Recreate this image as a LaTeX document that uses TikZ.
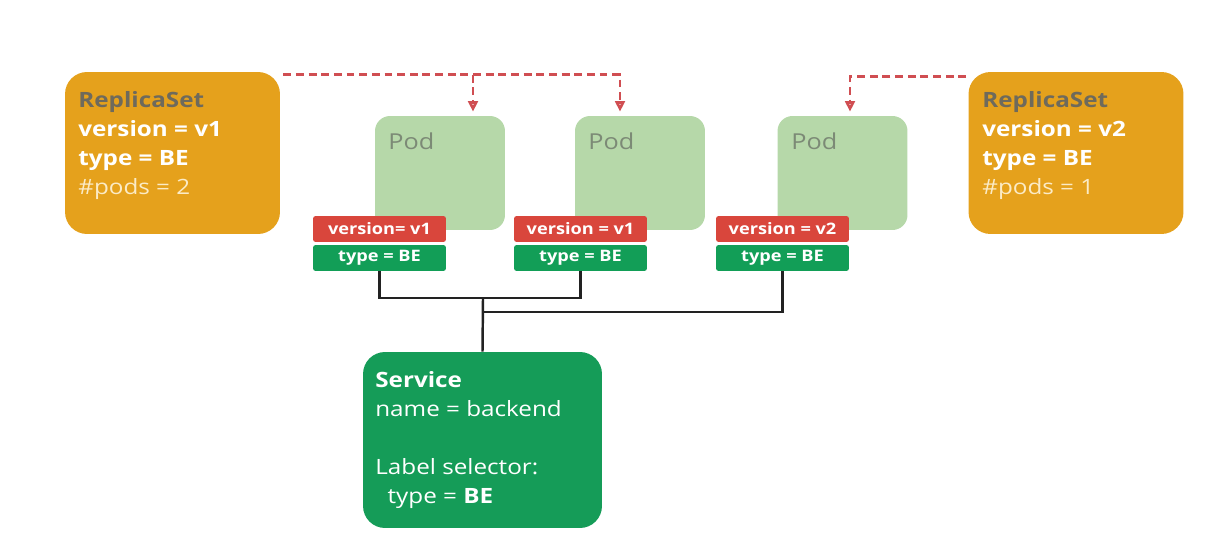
\documentclass[tikz,border=0pt]{standalone}
\usepackage{fontspec}
\setmainfont{Open Sans}[FakeStretch=1.15]
\usetikzlibrary{arrows.meta}

\definecolor{rsorange}{HTML}{E5A11C}
\definecolor{rsgray}{HTML}{6E6A5C}
\definecolor{rspale}{HTML}{FBEBC6}
\definecolor{podgreen}{HTML}{B6D8A9}
\definecolor{podgray}{HTML}{7C8A76}
\definecolor{tagred}{HTML}{D9463C}
\definecolor{taggreen}{HTML}{129E57}
\definecolor{svcgreen}{HTML}{159C58}
\definecolor{rsred}{HTML}{D04E52}
\definecolor{selgray}{HTML}{222222}

\tikzset{
  rsbox/.style={rectangle,rounded corners=0.44cm,fill=rsorange,
    minimum width=4.3cm,minimum height=3.24cm},
  podbox/.style={rectangle,rounded corners=0.3cm,fill=podgreen,
    minimum width=2.6cm,minimum height=2.28cm},
  svcbox/.style={rectangle,rounded corners=0.44cm,fill=svcgreen,
    minimum width=4.78cm,minimum height=3.52cm},
  tag/.style={rectangle,rounded corners=1.5pt,text=white,inner sep=0pt,
    minimum width=2.66cm,minimum height=0.52cm,
    font=\fontsize{9}{10}\selectfont\bfseries},
  boxtext/.style={anchor=north west,inner sep=0pt,align=left,
    font=\fontsize{12}{16.5}\selectfont},
  rsline/.style={draw=rsred,line width=1.5pt,dash pattern=on 4.5pt off 2.7pt,
    -{Triangle[open,length=6pt,width=5.5pt]}},
  selline/.style={draw=selgray,line width=1.4pt}
}

\begin{document}
\begin{tikzpicture}[x=0.02cm,y=-0.02cm]

  \useasboundingbox (0,0) rectangle (1210,544);

  % replica sets
  \node[rsbox] (rs1) at (172.5,153) {};
  \node[rsbox] (rs2) at (1076,153) {};
  \node[boxtext,text=white] (rs1txt) at (78,91)
    {\textbf{\textcolor{rsgray}{ReplicaSet}}\\\textbf{version = v1}\\
     \textbf{type = BE}\\\textcolor{rspale}{\#pods = 2}};
  \node[boxtext,text=white] (rs2txt) at (982,91)
    {\textbf{\textcolor{rsgray}{ReplicaSet}}\\\textbf{version = v2}\\
     \textbf{type = BE}\\\textcolor{rspale}{\#pods = 1}};

  % pods
  \node[podbox] (pod1) at (440,173) {};
  \node[podbox] (pod2) at (640,173) {};
  \node[podbox] (pod3) at (842.5,173) {};
  \begin{scope}[every node/.style={boxtext,text=podgray,
      font=\fontsize{12.5}{15}\selectfont}]
    \node (pod1txt) at (388,132) {Pod};
    \node (pod2txt) at (588,132) {Pod};
    \node (pod3txt) at (791,132) {Pod};
  \end{scope}

  % labels
  \begin{scope}[every node/.style={tag,fill=tagred}]
    \node (ver1) at (379.5,229) {version= v1};
    \node (ver2) at (580.5,229) {version = v1};
    \node (ver3) at (782.5,229) {version = v2};
  \end{scope}
  \begin{scope}[every node/.style={tag,fill=taggreen}]
    \node (type1) at (379.5,258) {type = BE};
    \node (type2) at (580.5,258) {type = BE};
    \node (type3) at (782.5,258) {type = BE};
  \end{scope}

  % service
  \node[svcbox] (svc) at (482.5,440) {};
  \node[boxtext,text=white] (svctxt) at (375,371)
    {\textbf{Service}\\name = backend\\[16.5pt]
     Label selector:\\\hspace*{7pt}type = \textbf{BE}};

  % replica set -> pods
  \coordinate (rsout1) at ([xshift=0.06cm,yshift=-0.06cm]rs1.north east);
  \coordinate (rsout2) at ([xshift=-0.04cm,yshift=-0.1cm]rs2.north west);
  \draw[rsline] (rsout1) -| ([xshift=-0.4cm,yshift=0.08cm]pod2.north);
  \draw[rsline] ([xshift=0.66cm]pod1.north |- rsout1)
    -- ([xshift=0.66cm,yshift=0.08cm]pod1.north);
  \draw[rsline] (rsout2) -| ([xshift=0.15cm,yshift=0.08cm]pod3.north);

  % label selector
  \coordinate (bus1) at (483,298);
  \coordinate (bus2) at (483,312);
  \draw[selline] (type1.south) |- (bus1) -| (type2.south);
  \draw[selline] (bus1) -- (svc.north);
  \draw[selline] (bus2) -| (type3.south);

\end{tikzpicture}
\end{document}
